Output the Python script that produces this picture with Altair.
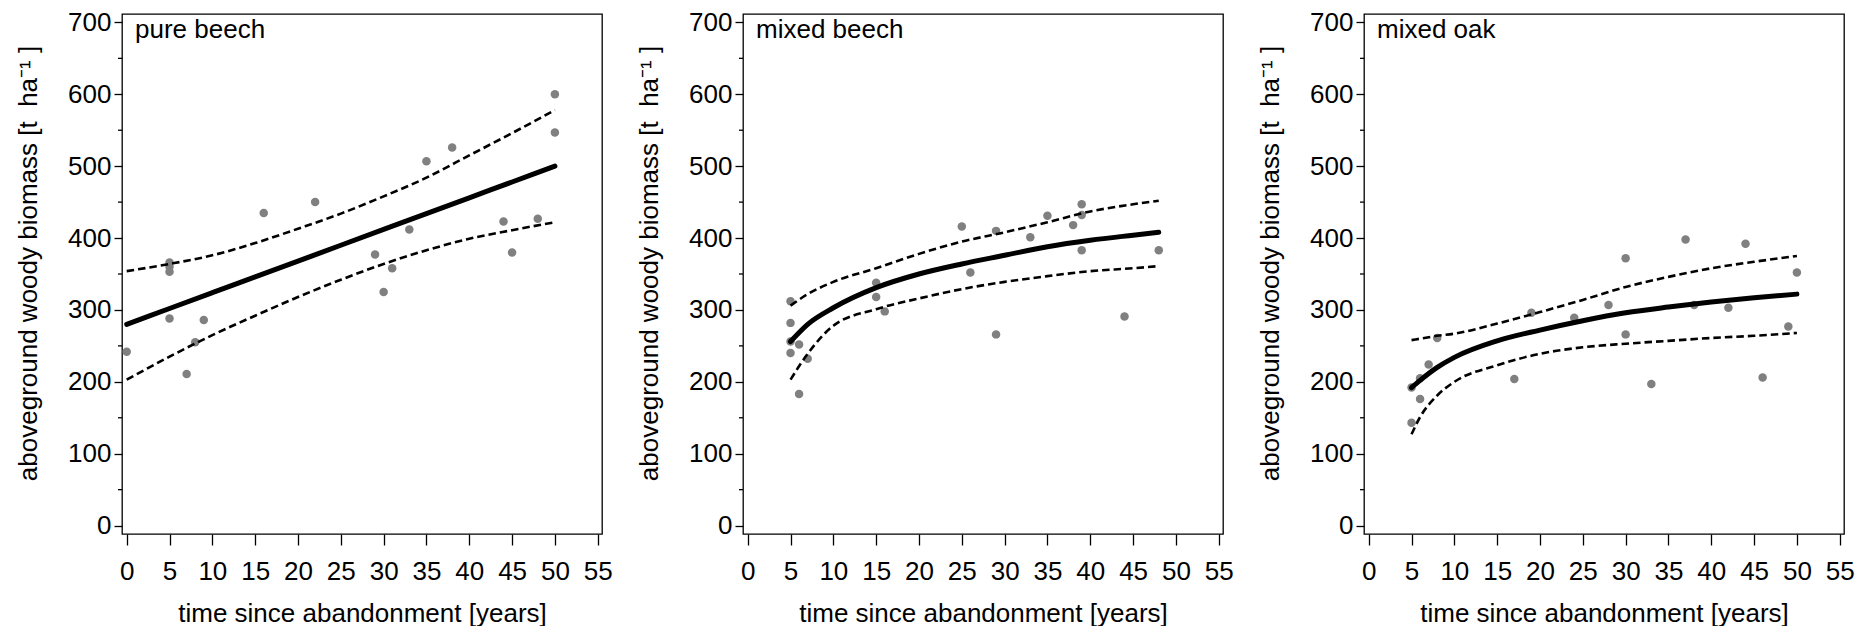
import altair as alt
import pandas as pd

FONT = "Liberation Sans"

# ---------------- pure beech ----------------
pb_x = [0, 5, 5, 5, 5, 7, 8, 9, 16, 22, 29, 30, 31, 33, 35, 38, 44, 45, 48, 50, 50]
pb_y = [242, 366, 360, 353, 288, 211, 255, 286, 435, 450, 377, 325, 358, 412, 507, 526, 423, 380, 427, 600, 547]
pb_cx = [0, 5, 10, 15, 20, 25, 30, 35, 40, 45, 50]
pb_fit = [280, 302, 324, 346, 368, 390, 412, 434, 456, 478, 500]
pb_up = [354, 364, 376, 393, 413, 434, 458, 484, 515, 546, 578]
pb_lo = [203, 235, 265, 292, 318, 342, 364, 383, 399, 411, 422]

# ---------------- mixed beech ----------------
mb_x = [5, 5, 5, 5, 6, 6, 7, 15, 15, 16, 25, 26, 29, 29, 33, 35, 38, 39, 39, 39, 44, 48]
mb_y = [312, 282, 256, 240, 252, 183, 232, 338, 318, 298, 416, 352, 410, 266, 401, 431, 418, 447, 432, 383, 291, 383]
mb_cx = [5, 7, 10, 15, 20, 25, 30, 35, 40, 45, 48]
mb_fit = [256, 280, 303, 331, 350, 364, 376, 388, 397, 404, 408]
mb_up = [306, 322, 339, 358, 378, 395, 408, 422, 437, 447, 452]
mb_lo = [203, 239, 278, 301, 316, 329, 339, 347, 354, 358, 361]

# ---------------- mixed oak ----------------
mo_x = [5, 5, 6, 6, 7, 8, 17, 19, 24, 28, 30, 30, 33, 37, 38, 42, 44, 46, 49, 50]
mo_y = [192, 143, 176, 205, 224, 261, 204, 296, 289, 307, 372, 266, 197, 398, 307, 303, 392, 206, 277, 352]
mo_cx = [5, 6, 8, 10, 15, 20, 25, 30, 35, 40, 45, 50]
mo_fit = [192, 202, 220, 234, 257, 272, 285, 296, 304, 311, 317, 322]
mo_up = [258, 260, 264, 267, 281, 297, 314, 332, 346, 358, 367, 375]
mo_lo = [127, 151, 181, 200, 223, 239, 248, 253, 257, 261, 264, 268]

x_ticks = [0, 5, 10, 15, 20, 25, 30, 35, 40, 45, 50, 55]
y_ticks = [0, 100, 200, 300, 400, 500, 600, 700]
y_minor = [50, 150, 250, 350, 450, 550, 650]

X_TITLE = "time since abandonment [years]"
Y_TITLE = "aboveground woody biomass [t\u00a0\u00a0ha\u207b\u00b9\u00a0]"

xscale = alt.Scale(domain=[-0.55, 55.5], nice=False, zero=False)
yscale = alt.Scale(domain=[-11.7, 711.7], nice=False, zero=False)

xaxis = alt.Axis(values=x_ticks, title=X_TITLE, domain=False, grid=False,
                 tickSize=11, tickWidth=1.3, tickColor="black",
                 labelFontSize=26, labelFont=FONT, labelColor="black",
                 labelPadding=13, labelFlush=False, labelOverlap=False,
                 titleFontSize=26, titleFont=FONT, titleFontWeight="normal",
                 titleColor="black", titlePadding=16)
yaxis = alt.Axis(values=y_ticks, title=Y_TITLE, domain=False, grid=False,
                 tickSize=8, tickWidth=1.3, tickColor="black",
                 labelFontSize=26, labelFont=FONT, labelColor="black",
                 labelPadding=3, labelFlush=False, labelOverlap=False,
                 titleFontSize=26, titleFont=FONT, titleFontWeight="normal",
                 titleColor="black", titlePadding=26, titleY=249)

DASH = [7.5, 4]


def panel(name, px, py, cx, fit, up, lo):
    pts = pd.DataFrame({"x": px, "y": py})
    curves = pd.DataFrame({"x": cx, "fit": fit, "up": up, "lo": lo})
    X = alt.X("x:Q", scale=xscale, axis=xaxis)
    points = alt.Chart(pts).mark_circle(size=72, color="#808080", opacity=1).encode(
        x=X, y=alt.Y("y:Q", scale=yscale, axis=yaxis))
    upper = alt.Chart(curves).mark_line(color="black", strokeWidth=2.6,
                                        strokeDash=DASH, interpolate="monotone").encode(
        x=X, y=alt.Y("up:Q", scale=yscale, axis=yaxis))
    lower = alt.Chart(curves).mark_line(color="black", strokeWidth=2.6,
                                        strokeDash=DASH, interpolate="monotone").encode(
        x=X, y=alt.Y("lo:Q", scale=yscale, axis=yaxis))
    mean = alt.Chart(curves).mark_line(color="black", strokeWidth=5,
                                       interpolate="monotone", strokeCap="round").encode(
        x=X, y=alt.Y("fit:Q", scale=yscale, axis=yaxis))
    minor = alt.Chart(pd.DataFrame({"m": y_minor})).mark_rule(
        color="black", strokeWidth=1.3).encode(
        y=alt.Y("m:Q", scale=yscale, axis=yaxis), x=alt.value(-4), x2=alt.value(0))
    label = alt.Chart(pd.DataFrame({"t": [name]})).mark_text(
        align="left", baseline="alphabetic", fontSize=26, font=FONT, color="black").encode(
        text="t:N", x=alt.value(13), y=alt.value(24))
    return alt.layer(points, upper, lower, mean, minor, label).properties(width=480, height=520)


chart = alt.hconcat(
    panel("pure beech", pb_x, pb_y, pb_cx, pb_fit, pb_up, pb_lo),
    panel("mixed beech", mb_x, mb_y, mb_cx, mb_fit, mb_up, mb_lo),
    panel("mixed oak", mo_x, mo_y, mo_cx, mo_fit, mo_up, mo_lo),
    spacing=141, bounds="flush",
).properties(
    padding={"left": 6, "top": 0, "right": 0, "bottom": 0},
    background="white",
).configure_view(
    stroke="black", strokeWidth=1.3
)

chart.save("out.html", embed_options={"renderer": "svg", "actions": False})
